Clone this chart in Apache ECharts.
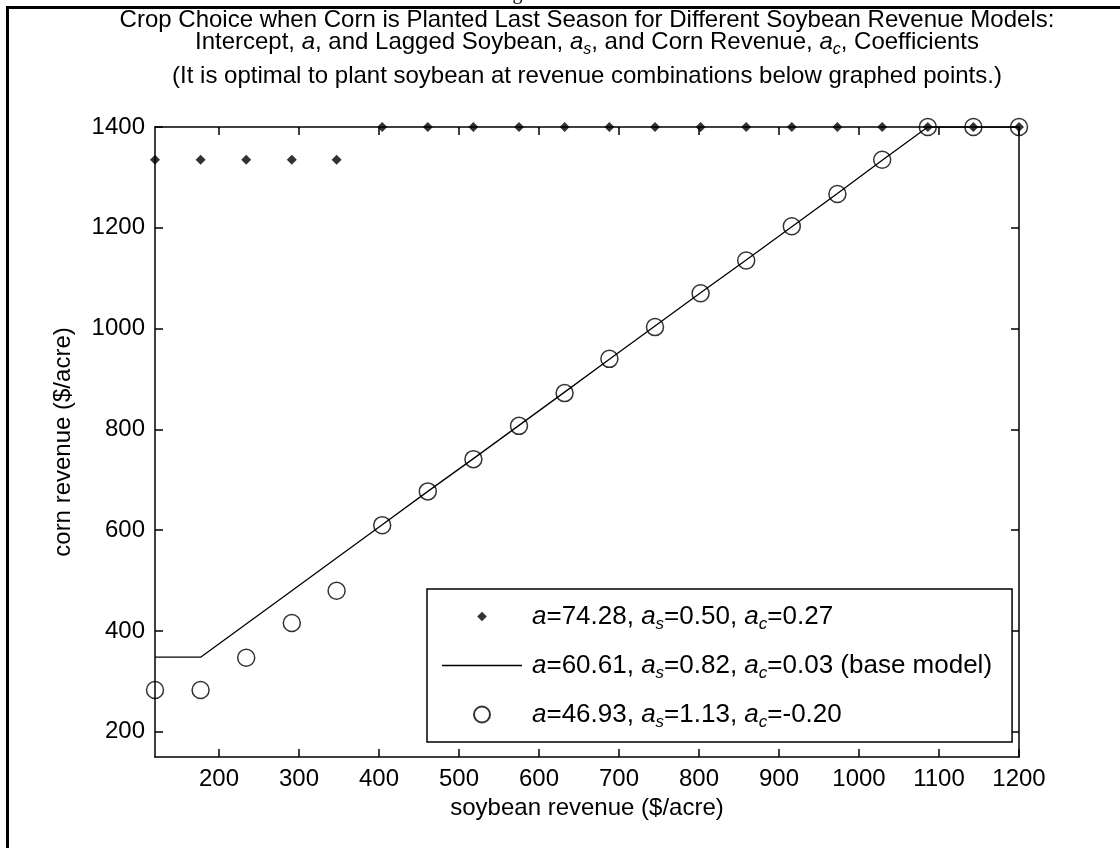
<!DOCTYPE html>
<html>
<head>
<meta charset="utf-8">
<script src="https://cdn.jsdelivr.net/npm/echarts@6/dist/echarts.min.js"></script>
<style>
html,body{margin:0;padding:0;background:#fff;}
#chart{width:1120px;height:848px;}
</style>
</head>
<body>
<div id="chart"></div>
<script>
// ---- data ----
const soyRevenue = [120, 177, 234, 291, 347, 404, 461, 518, 575, 632, 688, 745, 802, 859, 916, 973, 1029, 1086, 1143, 1200];
const modelA = [1335, 1335, 1335, 1335, 1335, 1400, 1400, 1400, 1400, 1400, 1400, 1400, 1400, 1400, 1400, 1400, 1400, 1400, 1400, 1400];
const modelBase = [348, 348, 414, 480, 545, 611, 677, 742, 808, 874, 939, 1005, 1071, 1136, 1202, 1268, 1334, 1400, 1400, 1400];
const modelC = [283, 283, 347, 416, 480, 610, 677, 741, 807, 872, 940, 1003, 1070, 1135, 1203, 1267, 1335, 1400, 1400, 1400];
const xTicks = [200, 300, 400, 500, 600, 700, 800, 900, 1000, 1100, 1200];
const yTicks = [200, 400, 600, 800, 1000, 1200, 1400];
const legendLabels = {
  modelA: '{i|a}=74.28, {i|a}{s|s}=0.50, {i|a}{s|c}=0.27',
  modelBase: '{i|a}=60.61, {i|a}{s|s}=0.82, {i|a}{s|c}=0.03 (base model)',
  modelC: '{i|a}=46.93, {i|a}{s|s}=1.13, {i|a}{s|c}=-0.20'
};
const titleLine1 = 'Crop Choice when Corn is Planted Last Season for Different Soybean Revenue Models:';
const titleLine2 = 'Intercept, {i|a}, and Lagged Soybean, {i|a}{s|s}, and Corn Revenue, {i|a}{s|c}, Coefficients';
const subtitle = '(It is optimal to plant soybean at revenue combinations below graphed points.)';

const FONT = 'Liberation Sans';
const FS = 24;
const LFS = 26;
const pairs = ys => soyRevenue.map((x, i) => [x, ys[i]]);

const titleRich = {
  i: {fontStyle: 'italic', fontFamily: FONT, fontSize: FS, color: '#000', lineHeight: 26},
  s: {fontStyle: 'italic', fontFamily: FONT, fontSize: 16, color: '#000', lineHeight: 16, padding: [15, 0, 0, 0]}
};
const legendRich = {
  i: {fontStyle: 'italic', fontFamily: FONT, fontSize: LFS, color: '#000', lineHeight: 28},
  s: {fontStyle: 'italic', fontFamily: FONT, fontSize: 17, color: '#000', lineHeight: 17, padding: [16, 0, 0, 0]}
};

const chart = echarts.init(document.getElementById('chart'), null, {renderer: 'canvas'});

const tickStyle = vals => ({show: true, inside: true, length: 8, customValues: vals, lineStyle: {color: '#000', width: 1.5}});
const lineAxis = {show: true, onZero: false, lineStyle: {color: '#000', width: 1.5}};
const labelStyle = vals => ({customValues: vals, fontFamily: FONT, fontSize: FS, color: '#000', margin: 10, formatter: v => String(v)});
const titleStyle = {fontFamily: FONT, fontSize: FS, fontWeight: 'normal', color: '#000', lineHeight: 26, rich: titleRich};

chart.setOption({
  backgroundColor: '#fff',
  animation: false,
  title: [
    {text: titleLine1, left: 587, textAlign: 'center', top: 7, padding: 0, textStyle: titleStyle},
    {text: titleLine2, left: 587, textAlign: 'center', top: 29, padding: 0, textStyle: titleStyle},
    {text: subtitle, left: 587, textAlign: 'center', top: 63, padding: 0, textStyle: titleStyle}
  ],
  grid: {left: 155, right: 101, top: 127, bottom: 91, containLabel: false},
  legend: {
    data: [
      {name: 'modelA', icon: 'path://M0,0M16,16M8,3.2L12.8,8L8,12.8L3.2,8Z'},
      {name: 'modelBase', icon: 'path://M0,0H80V1.4H0Z'},
      {name: 'modelC'}
    ],
    orient: 'vertical',
    left: 427,
    top: 589,
    padding: [11, 20, 11, 15],
    itemWidth: 80,
    itemHeight: 16,
    itemGap: 16,
    borderColor: '#000',
    borderWidth: 1.5,
    backgroundColor: '#fff',
    selectedMode: false,
    formatter: name => legendLabels[name],
    textStyle: {fontFamily: FONT, fontSize: LFS, color: '#000', lineHeight: 28, padding: [0, 0, 0, 5], rich: legendRich}
  },
  xAxis: [
    {
      type: 'value', position: 'bottom', min: 120, max: 1200,
      name: 'soybean revenue ($/acre)', nameLocation: 'middle', nameGap: 35,
      nameTextStyle: {fontFamily: FONT, fontSize: FS, color: '#000'},
      axisLine: lineAxis, axisTick: tickStyle(xTicks), axisLabel: labelStyle(xTicks), splitLine: {show: false}
    },
    {
      type: 'value', position: 'top', min: 120, max: 1200,
      axisLine: lineAxis, axisTick: tickStyle(xTicks), axisLabel: {show: false, customValues: xTicks}, splitLine: {show: false}
    }
  ],
  yAxis: [
    {
      type: 'value', position: 'left', min: 150, max: 1400,
      name: 'corn revenue ($/acre)', nameLocation: 'middle', nameGap: 80,
      nameTextStyle: {fontFamily: FONT, fontSize: FS, color: '#000'},
      axisLine: lineAxis, axisTick: tickStyle(yTicks), axisLabel: labelStyle(yTicks), splitLine: {show: false}
    },
    {
      type: 'value', position: 'right', min: 150, max: 1400,
      axisLine: lineAxis, axisTick: tickStyle(yTicks), axisLabel: {show: false, customValues: yTicks}, splitLine: {show: false}
    }
  ],
  series: [
    {
      name: 'modelA', type: 'scatter', data: pairs(modelA),
      symbol: 'diamond', symbolSize: 10,
      itemStyle: {color: '#000'}, z: 4
    },
    {
      name: 'modelBase', type: 'line', data: pairs(modelBase),
      symbol: 'none', lineStyle: {color: '#000', width: 1.3},
      itemStyle: {color: '#000'}, z: 3
    },
    {
      name: 'modelC', type: 'scatter', data: pairs(modelC),
      symbol: 'circle', symbolSize: 17,
      itemStyle: {color: 'rgba(255,255,255,0)', borderColor: '#000', borderWidth: 1.5}, z: 3
    }
  ],
  graphic: [
    {type: 'rect', shape: {x: 7.5, y: 7.5, width: 1300, height: 1000}, style: {fill: 'none', stroke: '#000', lineWidth: 3}, silent: true, z: 100},
    {type: 'text', style: {text: 'Figure', x: 522, y: 4, align: 'center', verticalAlign: 'bottom', font: '20px "Liberation Serif"', fill: '#000'}, silent: true}
  ]
});
</script>
</body>
</html>
